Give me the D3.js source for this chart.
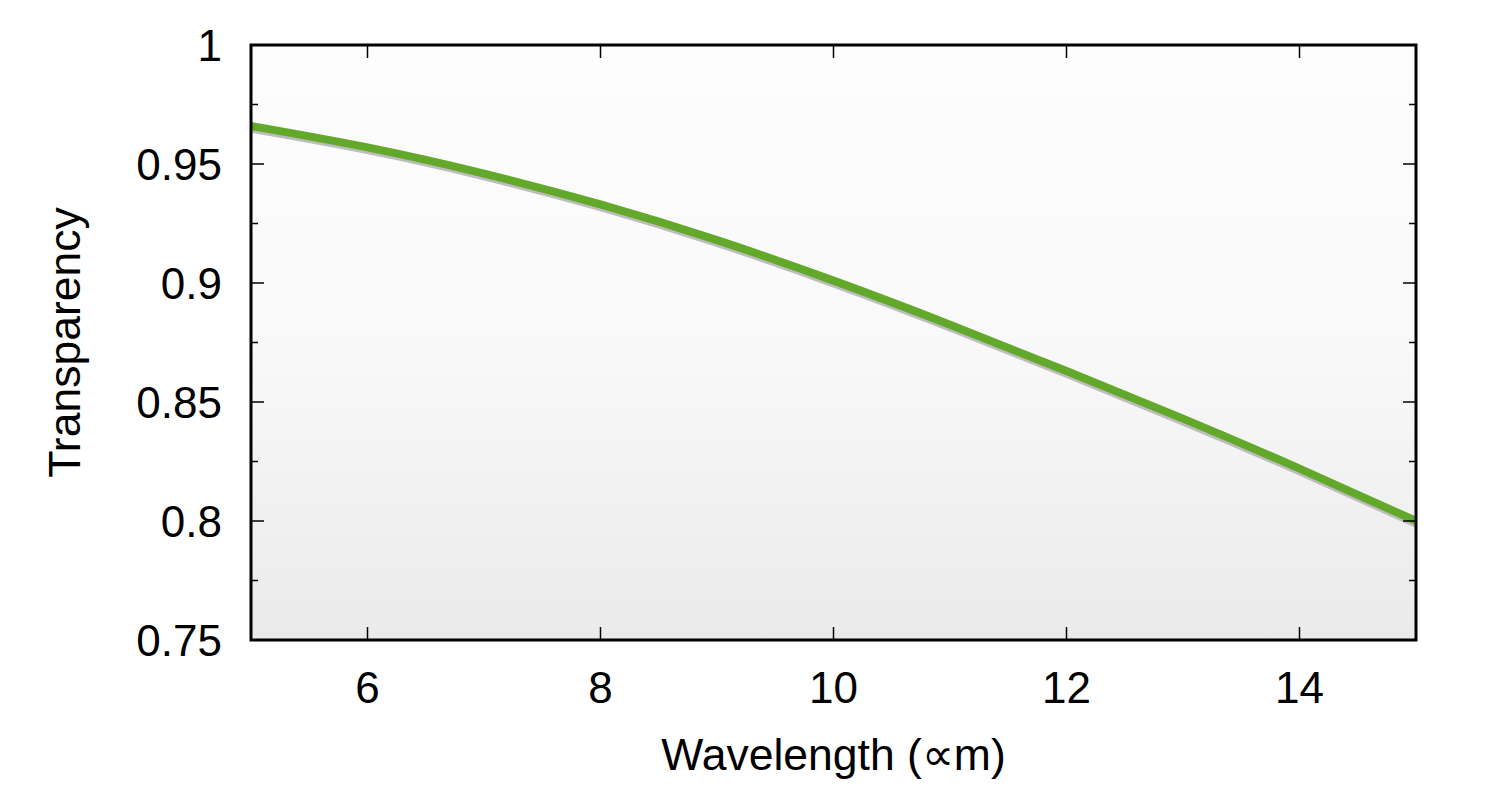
<!DOCTYPE html>
<html>
<head>
<meta charset="utf-8">
<script src="https://cdn.jsdelivr.net/npm/d3@7"></script>
<style>
  body { margin: 0; background: #fff; }
  text { font-family: "Liberation Sans", Arial, sans-serif; fill: #000; }
</style>
</head>
<body>
<div id="chart"></div>
<script>
// curve
const wavelength = [5, 6, 7, 8, 9, 10, 11, 12, 13, 14, 15];
const transparency = [0.966, 0.957, 0.946, 0.933, 0.918, 0.901, 0.8825, 0.863, 0.843, 0.822, 0.800];
const xTicks = [6, 8, 10, 12, 14];
const yTicks = [0.75, 0.8, 0.85, 0.9, 0.95, 1];
const yMinor = [0.775, 0.825, 0.875, 0.925, 0.975];

const W = 1500, H = 787;
const margin = {top: 45, right: 84, bottom: 147, left: 251};
const width = W - margin.left - margin.right,
    height = H - margin.top - margin.bottom;

const root = d3.select("#chart").append("svg")
    .attr("width", W)
    .attr("height", H);

const grad = root.append("defs").append("linearGradient")
    .attr("id", "bg")
    .attr("x1", 0).attr("y1", 0).attr("x2", 0).attr("y2", 1);
grad.append("stop").attr("offset", "0%").attr("stop-color", "#fdfdfd");
grad.append("stop").attr("offset", "50%").attr("stop-color", "#f9f9f9");
grad.append("stop").attr("offset", "100%").attr("stop-color", "#eaeaea");

const svg = root.append("g")
    .attr("transform", `translate(${margin.left},${margin.top})`);

const x = d3.scaleLinear().domain([5, 15]).range([0, width]);
const y = d3.scaleLinear().domain([0.75, 1]).range([height, 0]);

svg.append("rect")
    .attr("width", width)
    .attr("height", height)
    .attr("fill", "url(#bg)");

const pts = wavelength.map((w, i) => [w, transparency[i]]);
const line = d3.line()
    .x(d => x(d[0]))
    .y(d => y(d[1]))
    .curve(d3.curveNatural);

svg.append("defs").append("clipPath").attr("id", "clip")
  .append("rect").attr("width", width).attr("height", height);

const curves = svg.append("g").attr("clip-path", "url(#clip)");

// shadow under the curve
curves.append("path")
    .datum(pts)
    .attr("d", line)
    .attr("transform", "translate(0,3)")
    .attr("fill", "none")
    .attr("stroke", "#bdbdbd")
    .attr("stroke-width", 7.5);

curves.append("path")
    .datum(pts)
    .attr("d", line)
    .attr("fill", "none")
    .attr("stroke", "#62a92b")
    .attr("stroke-width", 8);

// ticks on all four sides
const major = 13, minor = 7;
const ticks = svg.append("g").attr("stroke", "#000").attr("stroke-width", 1.5);
xTicks.forEach(t => {
    ticks.append("line").attr("x1", x(t)).attr("x2", x(t)).attr("y1", height).attr("y2", height - major);
    ticks.append("line").attr("x1", x(t)).attr("x2", x(t)).attr("y1", 0).attr("y2", major);
});
yTicks.forEach(t => {
    ticks.append("line").attr("x1", 0).attr("x2", major).attr("y1", y(t)).attr("y2", y(t));
    ticks.append("line").attr("x1", width).attr("x2", width - major).attr("y1", y(t)).attr("y2", y(t));
});
yMinor.forEach(t => {
    ticks.append("line").attr("x1", 0).attr("x2", minor).attr("y1", y(t)).attr("y2", y(t));
    ticks.append("line").attr("x1", width).attr("x2", width - minor).attr("y1", y(t)).attr("y2", y(t));
});

svg.append("rect")
    .attr("width", width)
    .attr("height", height)
    .attr("fill", "none")
    .attr("stroke", "#000")
    .attr("stroke-width", 3);

// tick labels
svg.selectAll(".xlab")
    .data(xTicks)
  .enter().append("text")
    .attr("class", "xlab")
    .attr("x", d => x(d))
    .attr("y", height + 63)
    .attr("text-anchor", "middle")
    .style("font-size", "44px")
    .text(d => d);

svg.selectAll(".ylab")
    .data(yTicks)
  .enter().append("text")
    .attr("class", "ylab")
    .attr("x", -29)
    .attr("y", d => y(d))
    .attr("dy", "0.36em")
    .attr("text-anchor", "end")
    .style("font-size", "44px")
    .text(d => d);

svg.append("text")
    .attr("x", width / 2)
    .attr("y", height + 130)
    .attr("text-anchor", "middle")
    .style("font-size", "44.5px")
    .text("Wavelength (∝m)");

svg.append("text")
    .attr("transform", `translate(${-171},${height / 2}) rotate(-90)`)
    .attr("text-anchor", "middle")
    .style("font-size", "44.5px")
    .text("Transparency");
</script>
</body>
</html>
